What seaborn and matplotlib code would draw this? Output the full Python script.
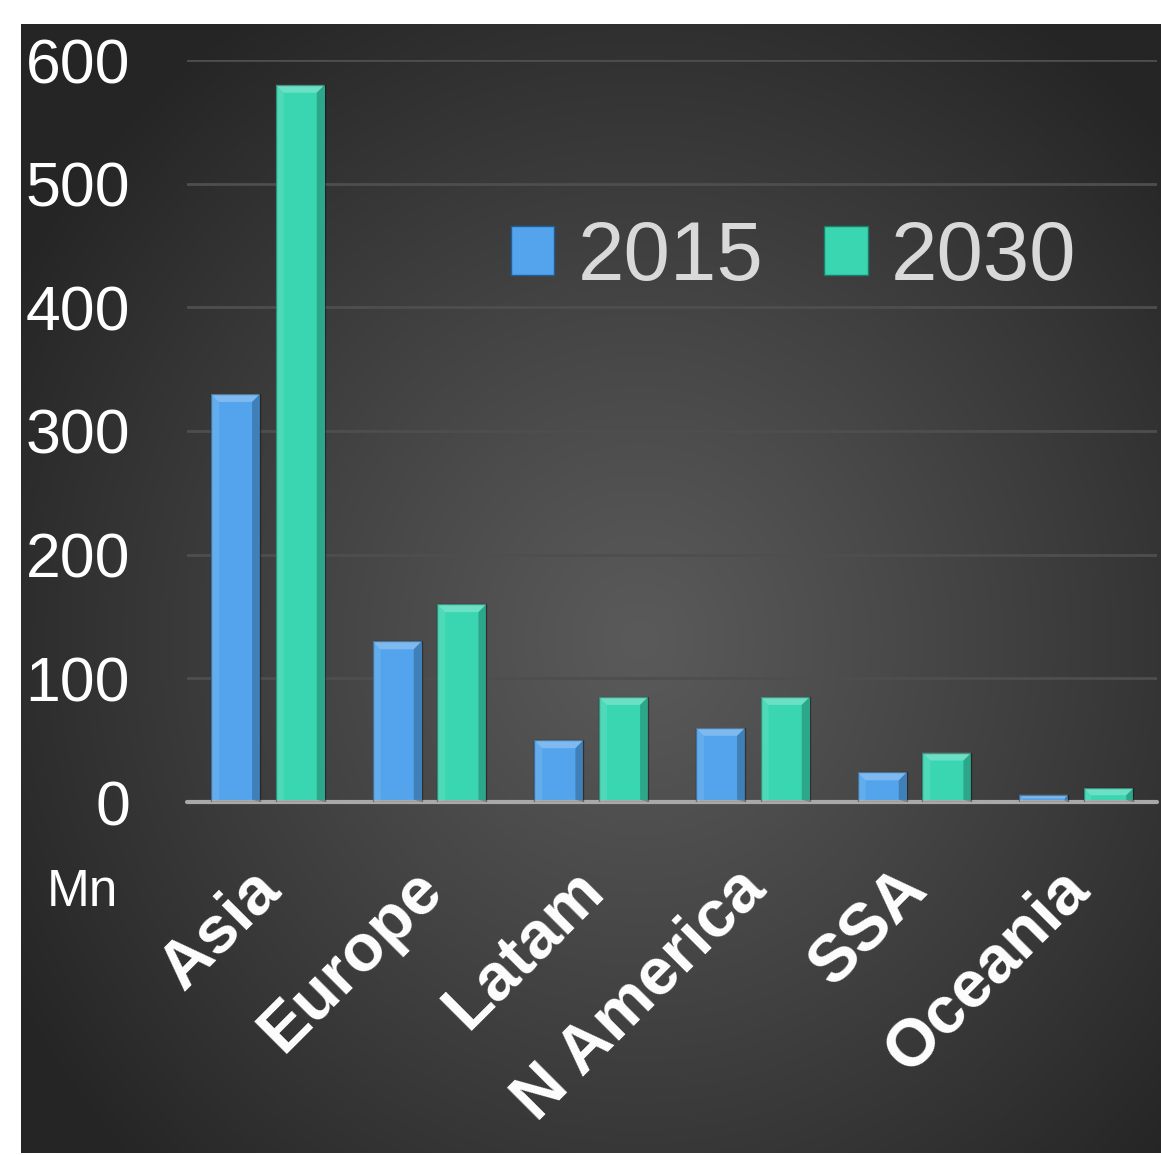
import numpy as np
import pandas as pd
import seaborn as sns
import matplotlib.pyplot as plt
from matplotlib.patches import Polygon, Patch
from matplotlib.transforms import ScaledTranslation

regions = ["Asia", "Europe", "Latam", "N America", "SSA", "Oceania"]
years = ["2015", "2030"]
v2015 = [330, 130, 50, 60, 24, 6]
v2030 = [580, 160, 85, 85, 40, 11]
yticks = [0, 100, 200, 300, 400, 500, 600]
unit_label = "Mn"

df = pd.DataFrame({
    "region": regions * 2,
    "year": [years[0]] * len(regions) + [years[1]] * len(regions),
    "value": v2015 + v2030,
})

sns.set_theme(style="white")
plt.rcParams["font.family"] = ["Liberation Sans", "DejaVu Sans"]

W, H = 1161, 1155
fig = plt.figure(figsize=(W / 100, H / 100), dpi=100, facecolor="white")

# dark radial gradient background
bg = fig.add_axes([21 / W, 2 / H, 1140 / W, 1129 / H])
bg.set_axis_off()
gx, gy = np.meshgrid(np.linspace(21, 1161, 400), np.linspace(24, 1153, 400))
r = np.sqrt(((gx - 640) / 1.0) ** 2 + ((gy - 640) / 1.05) ** 2) / 720
r = np.clip(r, 0, 1)
lo, hi = 0x25 / 255, 0x5a / 255
val = hi - (hi - lo) * (r ** 1.1)
img = np.dstack([val, val, val])
bg.imshow(img, extent=[0, 1, 0, 1], aspect="auto", origin="upper")
bg.set_xlim(0, 1)
bg.set_ylim(0, 1)

ax = fig.add_axes([187 / W, 353 / H, 970 / W, 742 / H])
ax.patch.set_alpha(0)

c2015 = "#53a4ec"
c2030 = "#3ad6b2"
sns.barplot(data=df, x="region", y="value", hue="year", palette=[c2015, c2030],
            width=0.8, gap=0.24, saturation=1, ax=ax, edgecolor="none",
            linewidth=0, legend=False, zorder=3)

ax.set_ylim(0, 600)
ax.set_xlim(-0.5, len(regions) - 0.5)
ax.set_yticks(yticks)
ax.set_yticklabels([str(t) for t in yticks])
for t in yticks[1:]:
    ax.axhline(t, color="#4e4e4e", lw=2, zorder=1)
ax.axhline(0, color="#a9a9a9", lw=3, zorder=4, clip_on=False)
for s in ax.spines.values():
    s.set_visible(False)
ax.set_xlabel("")
ax.set_ylabel("")
ax.tick_params(axis="y", length=0, pad=41, labelsize=45, labelcolor="#ffffff")
ax.tick_params(axis="x", length=0, pad=56)
ax.set_xticks(range(len(regions)))
ax.set_xticklabels(regions, rotation=45, ha="right", va="center",
                   rotation_mode="anchor", fontsize=48, fontweight="bold",
                   color="white")
offset = ScaledTranslation(3 / 100, 0, fig.dpi_scale_trans)
for lbl in ax.get_xticklabels():
    lbl.set_transform(lbl.get_transform() + offset)

# bevel effect on each bar
px_x = 1 / 161.67
px_y = 1 / 1.2367
for p in list(ax.patches):
    x0, y0 = p.get_x(), p.get_y()
    w, h = p.get_width(), p.get_height()
    if h <= 0:
        continue
    bx = 8 * px_x
    by = min(8 * px_y, h / 2)
    bxx = bx if h / 2 >= 8 * px_y else by / px_y * px_x
    x1, y1 = x0 + w, y0 + h
    top = Polygon([[x0, y1], [x1, y1], [x1 - bxx, y1 - by], [x0 + bxx, y1 - by]],
                  closed=True, facecolor="white", alpha=0.25, lw=0, zorder=4)
    right = Polygon([[x1, y1], [x1, y0], [x1 - bxx, y0 + by * 0.3], [x1 - bxx, y1 - by]],
                    closed=True, facecolor="black", alpha=0.22, lw=0, zorder=4)
    left = Polygon([[x0, y1], [x0, y0], [x0 + bxx, y0 + by * 0.3], [x0 + bxx, y1 - by]],
                   closed=True, facecolor="white", alpha=0.10, lw=0, zorder=4)
    for poly in (top, right, left):
        ax.add_patch(poly)
    ax.add_patch(plt.Rectangle((x0, y0), w, h, fill=False, edgecolor="black",
                               alpha=0.35, lw=1, zorder=4))

# legend
handles = [Patch(facecolor=c2015, edgecolor="#1f5f99", lw=1),
           Patch(facecolor=c2030, edgecolor="#1a7f66", lw=1)]
leg = fig.legend(handles, years, loc="center left",
                 bbox_to_anchor=(511 / W, (H - 258) / H), bbox_transform=fig.transFigure,
                 ncol=2, frameon=False, fontsize=60, handlelength=0.52,
                 handleheight=0.53, handletextpad=0.28, columnspacing=0.73,
                 borderpad=0, borderaxespad=0)
for t in leg.get_texts():
    t.set_color("#d9d9d9")

fig.text(47 / W, (H - 893) / H, unit_label, fontsize=37, color="white",
         ha="left", va="center")

fig.savefig("out.png", dpi=100, facecolor="white")
